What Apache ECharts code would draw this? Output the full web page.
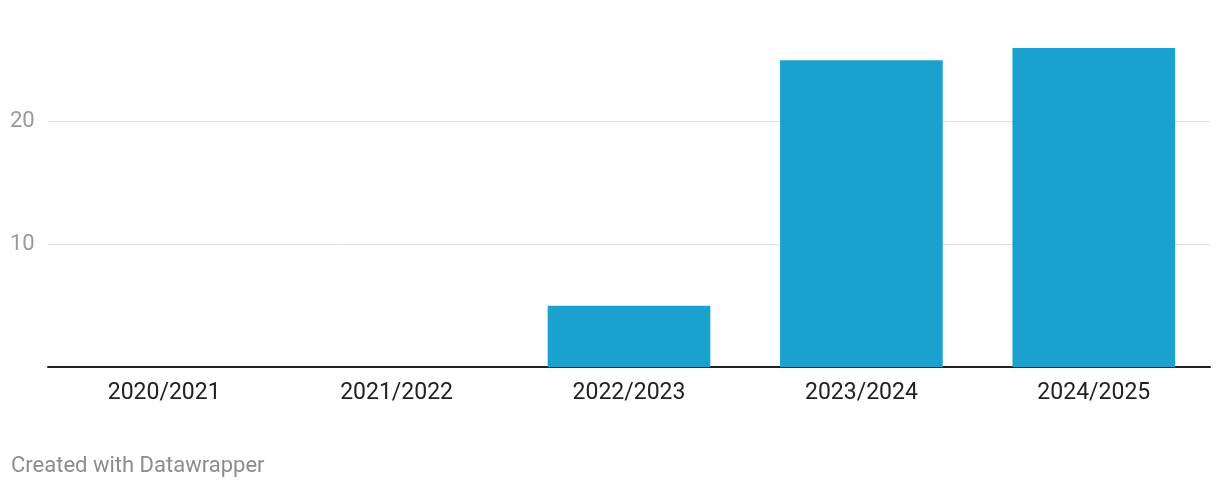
<!DOCTYPE html>
<html>
<head>
<meta charset="utf-8">
<script src="https://cdn.jsdelivr.net/npm/echarts@6/dist/echarts.min.js"></script>
<style>
  html, body { margin: 0; padding: 0; background: #fff; }
  #chart { width: 1220px; height: 488px; }
</style>
</head>
<body>
<div id="chart"></div>
<script>
// data
var seasons = ['2020/2021', '2021/2022', '2022/2023', '2023/2024', '2024/2025']
var values = [0, 0, 5, 25, 26]
var yTicks = [10, 20]

var chart = echarts.init(document.getElementById('chart'))
var option = {
  animation: false,
  textStyle: { fontFamily: 'Roboto' },
  title: {
    text: 'Created with Datawrapper',
    left: 11,
    top: 454,
    padding: 0,
    textStyle: { color: '#8c8c8c', fontSize: 22, lineHeight: 24, fontWeight: 'normal', fontFamily: 'Roboto' }
  },
  grid: { left: 48, right: 10, top: 48, bottom: 121 },
  xAxis: {
    type: 'category',
    data: seasons,
    axisLine: { lineStyle: { color: '#222', width: 2 } },
    axisTick: { show: false },
    axisLabel: { color: '#222', fontSize: 23, margin: 15 }
  },
  yAxis: {
    type: 'value',
    min: 0,
    max: 26,
    interval: 10,
    axisLine: { show: false },
    axisTick: { show: false },
    splitLine: { showMinLine: false, showMaxLine: false, lineStyle: { color: '#e0e0e0', width: 1 } },
    axisLabel: {
      color: '#999',
      fontSize: 22,
      align: 'left',
      margin: 38,
      formatter: function (v) {
        return yTicks.indexOf(v) >= 0 ? String(v) : ''
      }
    }
  },
  series: [{
    type: 'bar',
    data: values,
    barCategoryGap: '30%',
    itemStyle: { color: '#1aa1ce' }
  }]
}
chart.setOption(option)
</script>
</body>
</html>
